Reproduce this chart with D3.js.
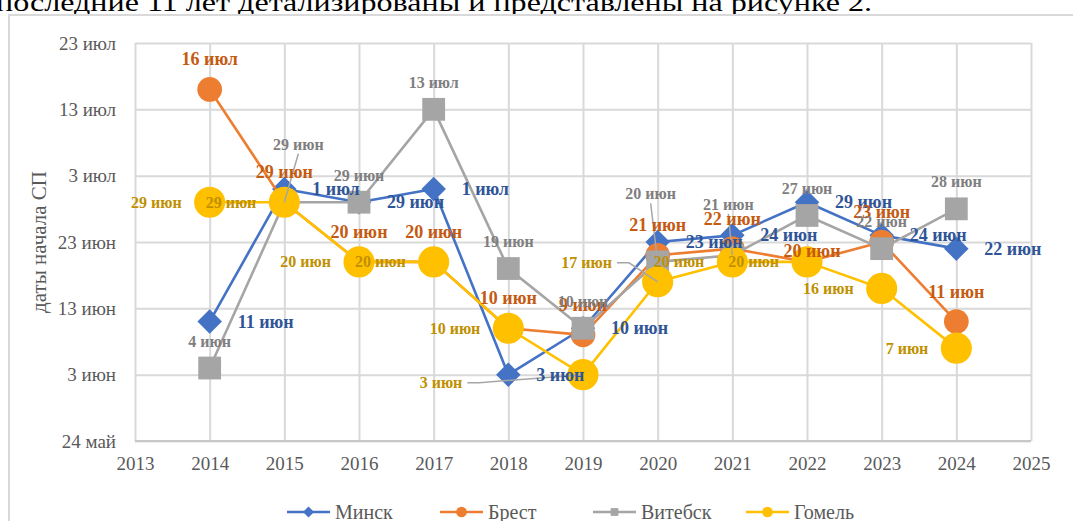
<!DOCTYPE html>
<html>
<head>
<meta charset="utf-8">
<script src="https://cdn.jsdelivr.net/npm/d3@7/dist/d3.min.js"></script>
<style>
  body { margin: 0; background: #fff; overflow: hidden; }
  svg, svg text { font-family: "Liberation Serif", "Times New Roman", "DejaVu Serif", serif; }
  svg { display: block; }
</style>
</head>
<body>
<div id="chart"></div>
<script>
// data (start dates of the season per city)
const years = [2014, 2015, 2016, 2017, 2018, 2019, 2020, 2021, 2022, 2023, 2024];
const minsk   = ["11 июн", "1 июл", "29 июн", "1 июл", "3 июн", "10 июн", "23 июн", "24 июн", "29 июн", "24 июн", "22 июн"];
const brest   = ["16 июл", "29 июн", "20 июн", "20 июн", "10 июн", "9 июн", "21 июн", "22 июн", "20 июн", "23 июн", "11 июн"];
const vitebsk = ["4 июн", "29 июн", "29 июн", "13 июл", "19 июн", "10 июн", "20 июн", "21 июн", "27 июн", "22 июн", "28 июн"];
const gomel   = ["29 июн", "29 июн", "20 июн", "20 июн", "10 июн", "3 июн", "17 июн", "20 июн", "20 июн", "16 июн", "7 июн"];
const seriesNames = ["Минск", "Брест", "Витебск", "Гомель"];
const xTicks = [2013, 2014, 2015, 2016, 2017, 2018, 2019, 2020, 2021, 2022, 2023, 2024, 2025];
const yTickLabels = ["24 май", "3 июн", "13 июн", "23 июн", "3 июл", "13 июл", "23 июл"];
const yTitle = "даты начала СП";
const pageText = "последние 11 лет детализированы и представлены на рисунке 2.";

const months = { "май": 4, "июн": 5, "июл": 6 };
const parseDay = s => {
  const [d, m] = s.split(" ");
  return new Date(Date.UTC(2000, months[m], +d));
};

const W = 1073, H = 521;
const plot = { left: 135, right: 1031, top: 43, bottom: 441 };

const styles = [
  { color: "#4472C4", text: "#2F5597", symbol: d3.symbolSquare, size: 300, rotate: 45, fs: 18,
    label: { pos: "right", gap: 28 } },
  { color: "#ED7D31", text: "#C55A11", symbol: d3.symbolCircle, size: 480, rotate: 0, fs: 18,
    label: { pos: "above", gap: 30, over: { 2022: { dx: 5, dy: -11 } } } },
  { color: "#A5A5A5", text: "#7F7F7F", symbol: d3.symbolSquare, size: 520, rotate: 0, fs: 16,
    label: { pos: "above", gap: 27, over: {
      2015: { dx: 14, dy: -58, leader: true },
      2020: { dx: -7, dy: -68, leader: true },
      2021: { dx: -4, dy: -51, leader: true } } } },
  { color: "#FFC000", text: "#BF9000", symbol: d3.symbolCircle, size: 760, rotate: 0, fs: 16,
    label: { pos: "left", gap: 28, over: {
      2019: { dx: -142, dy: 8, leader: true },
      2020: { dx: -71, dy: -19, leader: true } } } }
];

const series = [minsk, brest, vitebsk, gomel].map((vals, i) => ({
  name: seriesNames[i],
  style: styles[i],
  points: vals.map((v, j) => ({ year: years[j], text: v, date: parseDay(v) }))
}));

const svg = d3.select("#chart").append("svg").attr("width", W).attr("height", H);

// text of the page above the figure
svg.append("text")
  .attr("x", -4).attr("y", 11)
  .attr("font-size", 26).attr("fill", "#000")
  .attr("textLength", 876).attr("lengthAdjust", "spacingAndGlyphs")
  .text(pageText);

// chart frame
svg.append("rect")
  .attr("x", 9).attr("y", 15).attr("width", W + 20).attr("height", H + 20)
  .attr("fill", "none").attr("stroke", "#d9d9d9").attr("stroke-width", 2);

const x = d3.scaleLinear().domain([2013, 2025]).range([plot.left, plot.right]);
const yTicks = yTickLabels.map(parseDay);
const y = d3.scaleUtc().domain([yTicks[0], yTicks[yTicks.length - 1]]).range([plot.bottom, plot.top]);

// grid + axes
const gx = svg.append("g").attr("transform", `translate(0,${plot.bottom})`)
  .call(d3.axisBottom(x).tickValues(xTicks).tickFormat(d3.format("d"))
    .tickSize(-(plot.bottom - plot.top)).tickPadding(16));
const gy = svg.append("g").attr("transform", `translate(${plot.left},0)`)
  .call(d3.axisLeft(y).tickValues(yTicks).tickFormat((d, i) => yTickLabels[i])
    .tickSize(-(plot.right - plot.left)).tickPadding(19));
[gx, gy].forEach(g => {
  g.attr("font-family", null);
  g.select(".domain").remove();
  g.selectAll(".tick line").attr("stroke", "#d9d9d9").attr("stroke-width", 2);
  g.selectAll(".tick text").attr("fill", "#595959").attr("font-size", 19);
});
svg.append("line")
  .attr("x1", plot.left).attr("x2", plot.right).attr("y1", plot.bottom).attr("y2", plot.bottom)
  .attr("stroke", "#c8c8c8").attr("stroke-width", 2);

svg.append("text")
  .attr("transform", `translate(46,${(plot.top + plot.bottom) / 2}) rotate(-90)`)
  .attr("text-anchor", "middle").attr("font-size", 21).attr("fill", "#595959")
  .text(yTitle);

// lines and markers, drawn in series order
const line = d3.line().x(d => x(d.year)).y(d => y(d.date));
series.forEach(s => {
  const g = svg.append("g");
  g.append("path").datum(s.points)
    .attr("d", line).attr("fill", "none")
    .attr("stroke", s.style.color).attr("stroke-width", 2.6).attr("stroke-linejoin", "round");
  g.selectAll("path.m").data(s.points).join("path")
    .attr("class", "m")
    .attr("d", d3.symbol().type(s.style.symbol).size(s.style.size))
    .attr("transform", d => `translate(${x(d.year)},${y(d.date)}) rotate(${s.style.rotate})`)
    .attr("fill", s.style.color);
});

// data labels
const leaders = svg.append("g");
const labels = svg.append("g");
series.forEach(s => {
  const L = s.style.label;
  s.points.forEach(d => {
    const px = x(d.year), py = y(d.date);
    const o = L.over && L.over[d.year];
    const t = labels.append("text")
      .attr("font-size", s.style.fs).attr("font-weight", "bold")
      .attr("fill", s.style.text).attr("dominant-baseline", "central")
      .text(d.text);
    if (o) {
      t.attr("x", px + o.dx).attr("y", py + o.dy).attr("text-anchor", "middle");
      if (o.leader) {
        const b = t.node().getBBox();
        let pts;
        if (Math.abs(o.dy) > Math.abs(o.dx)) {
          pts = [[px + o.dx, b.y + b.height + 1], [px, py]];
        } else {
          const sx = b.x + b.width + 5;
          pts = [[sx, py + o.dy], [sx + 12, py + o.dy], [px, py]];
        }
        leaders.append("path").attr("d", d3.line()(pts))
          .attr("fill", "none").attr("stroke", "#a6a6a6").attr("stroke-width", 1.5);
      }
    } else if (L.pos === "right") {
      t.attr("x", px + L.gap).attr("y", py).attr("text-anchor", "start");
    } else if (L.pos === "left") {
      t.attr("x", px - L.gap).attr("y", py).attr("text-anchor", "end");
    } else {
      t.attr("x", px).attr("y", py - L.gap).attr("text-anchor", "middle");
    }
  });
});

// legend
const legend = svg.append("g").attr("transform", "translate(287,512)");
series.forEach((s, i) => {
  const g = legend.append("g").attr("transform", `translate(${i * 153},0)`);
  g.append("line").attr("x1", 0).attr("x2", 43).attr("stroke", s.style.color).attr("stroke-width", 2.6);
  g.append("path")
    .attr("d", d3.symbol().type(s.style.symbol).size(s.style.symbol === d3.symbolCircle ? 90 : 60))
    .attr("transform", `translate(21.5,0) rotate(${s.style.rotate})`)
    .attr("fill", s.style.color);
  g.append("text").attr("x", 48).attr("y", 0).attr("dominant-baseline", "central")
    .attr("font-size", 20).attr("fill", "#595959").text(s.name);
});
</script>
</body>
</html>
